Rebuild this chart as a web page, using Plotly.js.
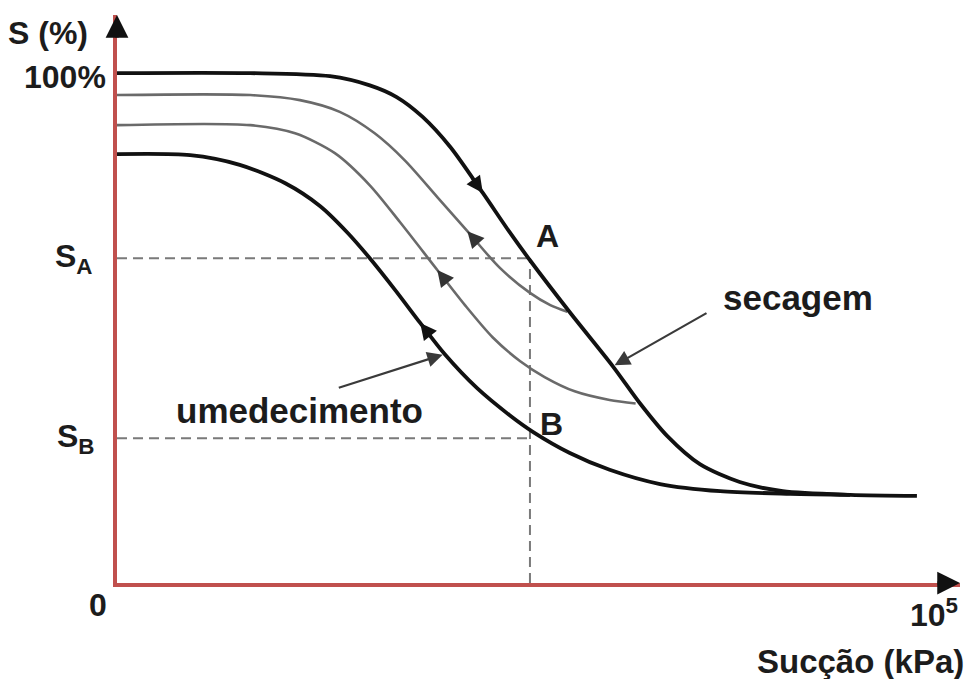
<!DOCTYPE html>
<html>
<head>
<meta charset="utf-8">
<script src="https://cdn.plot.ly/plotly-3.0.1.min.js"></script>
<style>html,body{margin:0;padding:0;background:#fff;}#chart{width:977px;height:679px;}</style>
</head>
<body>
<div id="chart"></div>
<script>
// Relative suction scale: 0 at the origin, 100 at the "10^5 kPa" tick.
// Degree of saturation S in %.
const dryingX = [0, 16.4, 26.2, 31.1, 34.4, 37.6, 41.0, 45.0, 48.3, 50.8, 55.7, 61.0, 64.3, 67.7, 71.7, 76.6, 81.9, 90.2, 98.4];
const dryingY = [100, 100, 99.4, 97.6, 95.3, 91.4, 85.5, 76.5, 68.8, 63.3, 53.1, 42.5, 35.3, 28.8, 23.3, 19.8, 18.0, 17.3, 17.1];

const wettingX = [0, 9.0, 15.1, 20.7, 25.0, 28.3, 31.1, 34.2, 37.3, 40.3, 44.3, 48.3, 51.2, 55.7, 60.6, 66.8, 74.2, 82.8, 90.2];
const wettingY = [84.1, 83.9, 82.0, 78.4, 73.9, 68.8, 63.7, 57.5, 51.0, 44.9, 38.2, 32.9, 29.6, 25.5, 22.2, 19.4, 18.0, 17.5, 17.3];

const scanUpperX = [0, 16.4, 22.5, 27.4, 31.7, 35.4, 39.4, 43.1, 47.1, 50.8, 53.3, 55.4];
const scanUpperY = [95.7, 95.7, 94.7, 92.4, 88.2, 82.9, 75.7, 69.0, 61.8, 56.9, 54.5, 53.2];

const scanLowerX = [0, 16.4, 21.9, 26.8, 31.1, 34.8, 39.4, 42.8, 46.2, 49.6, 52.6, 56.3, 60.6, 63.8];
const scanLowerY = [89.8, 89.8, 88.2, 84.3, 78.0, 70.8, 61.4, 54.5, 48.2, 43.5, 40.4, 37.6, 35.9, 35.2];

const suctionAB = 50.8;   // suction at points A and B
const S_A = 63.7;         // saturation at A
const S_B = 28.4;         // saturation at B
const yTickVals = [100, S_A, S_B];
const yTickText = ["100%", "S<sub>A</sub>", "S<sub>B</sub>"];
const xTickText = ["0", "10<sup>5</sup>"];
const xTickVals = [0, 100];

const xMax = 103.7, yMax = 111.4;
const AXIS_RED = '#c0504d';
const INK = '#1c1c1c';
const FONT = 'Liberation Sans, Arial, sans-serif';
const FS = 32, FS_BIG = 35;

const guide = {color: '#7a7a7a', width: 2, dash: '10px,6px'};
const smooth = 0.8;
const traces = [
  {x: [0, suctionAB], y: [S_A, S_A], mode: 'lines', line: guide, hoverinfo: 'skip'},
  {x: [0, suctionAB], y: [S_B, S_B], mode: 'lines', line: guide, hoverinfo: 'skip'},
  {x: [suctionAB, suctionAB], y: [0, S_A], mode: 'lines', line: guide, hoverinfo: 'skip'},
  {x: scanUpperX, y: scanUpperY, mode: 'lines', line: {color: '#6a6a6a', width: 2.6, shape: 'spline', smoothing: smooth}},
  {x: scanLowerX, y: scanLowerY, mode: 'lines', line: {color: '#6a6a6a', width: 2.6, shape: 'spline', smoothing: smooth}},
  {x: wettingX, y: wettingY, mode: 'lines', line: {color: '#111', width: 3.8, shape: 'spline', smoothing: smooth}},
  {x: dryingX, y: dryingY, mode: 'lines', line: {color: '#111', width: 3.8, shape: 'spline', smoothing: smooth}}
];

function curveArrow(xs, ys, i, j, color) {
  // head at point i, pointing away from point j
  return {x: xs[i], y: ys[i], ax: xs[i] + (xs[j] - xs[i]) * 0.35, ay: ys[i] + (ys[j] - ys[i]) * 0.35,
    xref: 'x', yref: 'y', axref: 'x', ayref: 'y', showarrow: true, text: '',
    arrowhead: 2, arrowsize: 1.1, arrowwidth: 3, arrowcolor: color, standoff: 0};
}
function txt(text, x, y, opts, size) {
  return Object.assign({text: text, x: x, y: y, xref: 'x', yref: 'y', showarrow: false,
    font: {family: FONT, size: size || FS, color: INK, weight: 'bold'}}, opts || {});
}

const annotations = [
  curveArrow(dryingX, dryingY, 7, 6, '#111'),
  curveArrow(scanUpperX, scanUpperY, 7, 8, '#333'),
  curveArrow(scanLowerX, scanLowerY, 6, 7, '#333'),
  curveArrow(wettingX, wettingY, 8, 9, '#111'),
  // pointer arrows
  {x: dryingX[11], y: dryingY[11], ax: 72.7, ay: 53.1, xref: 'x', yref: 'y', axref: 'x', ayref: 'y',
   showarrow: true, text: '', arrowhead: 2, arrowsize: 1.4, arrowwidth: 2.2, arrowcolor: '#3a3a3a', standoff: 2},
  {x: wettingX[9], y: wettingY[9], ax: 27.1, ay: 38.2, xref: 'x', yref: 'y', axref: 'x', ayref: 'y',
   showarrow: true, text: '', arrowhead: 2, arrowsize: 1.4, arrowwidth: 2.2, arrowcolor: '#3a3a3a', standoff: 2},
  // axis arrowheads
  {x: xMax, y: 0, ax: -24, ay: 0, xref: 'x', yref: 'y', showarrow: true, text: '', arrowhead: 2,
   arrowsize: 1.3, arrowwidth: 3.5, arrowcolor: '#111', standoff: 0},
  {x: 0, y: yMax, ax: 0, ay: 24, xref: 'x', yref: 'y', showarrow: true, text: '', arrowhead: 2,
   arrowsize: 1.3, arrowwidth: 3.5, arrowcolor: '#111', standoff: 0},
  // curve labels
  txt('secagem', 83.8, 55.9, {}, FS_BIG),
  txt('umedecimento', 22.5, 33.9, {}, FS_BIG),
  txt('A', suctionAB, S_A, {xanchor: 'left', yanchor: 'bottom', xshift: 4, yshift: 2}),
  txt('B', suctionAB, S_B, {xanchor: 'left', yanchor: 'bottom', xshift: 8, yshift: -6}),
  // y labels
  txt(yTickText[0], 0, yTickVals[0], {xanchor: 'right', xshift: -9, yshift: -4}),
  txt(yTickText[1], 0, yTickVals[1], {xanchor: 'right', xshift: -22, yshift: 0}),
  txt(yTickText[2], 0, yTickVals[2], {xanchor: 'right', xshift: -20, yshift: 0}),
  txt('S (%)', 0, yMax, {xanchor: 'right', xshift: -27, yshift: -18}),
  // x labels
  txt(xTickText[0], xTickVals[0], 0, {xshift: -19, yshift: -22}),
  txt(xTickText[1], xTickVals[1], 0, {xshift: 4, yshift: -30}),
  txt('Sucção (kPa)', xTickVals[1], 0, {xanchor: 'right', xshift: 36, yshift: -78}, FS_BIG - 2)
];

const axisCommon = {showgrid: false, zeroline: false, showticklabels: false, ticks: '',
  showline: true, linecolor: AXIS_RED, linewidth: 4, fixedrange: true};

const layout = {
  width: 977, height: 679,
  margin: {l: 117, r: 17, t: 15, b: 96},
  paper_bgcolor: '#fff', plot_bgcolor: '#fff',
  showlegend: false,
  xaxis: Object.assign({range: [0, xMax]}, axisCommon),
  yaxis: Object.assign({range: [0, yMax]}, axisCommon),
  annotations: annotations
};

Plotly.newPlot('chart', traces, layout, {displayModeBar: false, staticPlot: true});
</script>
</body>
</html>
